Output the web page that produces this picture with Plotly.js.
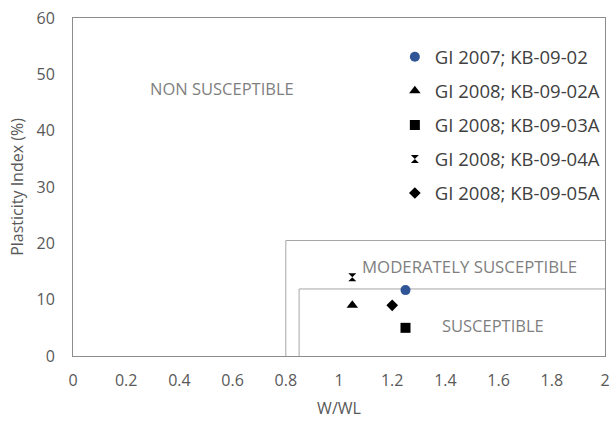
<!DOCTYPE html>
<html><head><meta charset="utf-8">
<script src="https://cdn.plot.ly/plotly-3.0.1.min.js"></script>
<style>html,body{margin:0;padding:0;background:#fff;}#chart{width:613px;height:422px;}</style>
</head><body><div id="chart"></div>
<script>
// Series data (W/WL, Plasticity Index %)
const seriesNames = ["GI 2007; KB-09-02","GI 2008; KB-09-02A","GI 2008; KB-09-03A","GI 2008; KB-09-04A","GI 2008; KB-09-05A"];
const seriesX = [[1.25],[1.05],[1.25],[1.05],[1.2]];
const seriesY = [[11.7],[9],[5],[14],[9]];
const seriesSymbols = ["circle","triangle-up","square","hourglass","diamond"];
const seriesColors = ["#2f5597","#000000","#000000","#000000","#000000"];
const seriesSizes = [10,10,10,8,9];
// Region boundaries
const moderateBoundX = [0.8, 0.8, 2];
const moderateBoundY = [0, 20.5, 20.5];
const susceptibleBoundX = [0.85, 0.85, 2];
const susceptibleBoundY = [0, 11.9, 11.9];
const xTicks = [0,0.2,0.4,0.6,0.8,1,1.2,1.4,1.6,1.8,2];
const xTickLabels = ["0","0.2","0.4","0.6","0.8","1","1.2","1.4","1.6","1.8","2"];
const yTicks = [0,10,20,30,40,50,60];

const traces = [
  {x: moderateBoundX, y: moderateBoundY, mode:'lines', line:{color:'#a6a6a6', width:1}, showlegend:false, hoverinfo:'skip'},
  {x: susceptibleBoundX, y: susceptibleBoundY, mode:'lines', line:{color:'#a6a6a6', width:1}, showlegend:false, hoverinfo:'skip'}
];
seriesNames.forEach((n,i)=>{
  traces.push({x: seriesX[i], y: seriesY[i], name: n, mode:'markers', legendgroup:'g'+i,
    marker:{symbol: seriesSymbols[i], color: seriesColors[i], size: seriesSizes[i], line:{width:0}}});
});

const layout = {
  width:613, height:422,
  margin:{l:73, r:8, t:18, b:66},
  paper_bgcolor:'#fff', plot_bgcolor:'#fff',
  font:{family:'"Open Sans", "Liberation Sans", sans-serif', color:'#595959', size:16},
  xaxis:{range:[0,2], tickvals:xTicks, ticktext:xTickLabels, showgrid:false, zeroline:false,
    showline:true, linecolor:'#8c8c8c', linewidth:1, mirror:true, ticks:'', ticklen:0,
    ticklabelstandoff:10, automargin:false,
    tickfont:{size:16, color:'#595959'},
    title:{text:'W/WL', font:{size:16, color:'#595959'}, standoff:12}},
  yaxis:{range:[0,60], tickvals:yTicks, showgrid:false, zeroline:false,
    showline:true, linecolor:'#8c8c8c', linewidth:1, mirror:true, ticks:'',
    ticklabelstandoff:14, automargin:false,
    tickfont:{size:16, color:'#595959'},
    title:{text:'Plasticity Index (%)', font:{size:16, color:'#595959'}, standoff:8}},
  legend:{x:0.605, y:0.94, xanchor:'left', yanchor:'top', bgcolor:'rgba(0,0,0,0)',
    font:{size:18.5, color:'#404040'}, tracegroupgap:7, itemwidth:30},
  annotations:[
    {xref:'x', yref:'y', x:0.56, y:47.5, text:'NON SUSCEPTIBLE', showarrow:false, font:{size:16.5, color:'#7f7f7f'}},
    {xref:'x', yref:'y', x:1.49, y:15.8, text:'MODERATELY SUSCEPTIBLE', showarrow:false, font:{size:16.8, color:'#7f7f7f'}},
    {xref:'x', yref:'y', x:1.58, y:5.4, text:'SUSCEPTIBLE', showarrow:false, font:{size:16.5, color:'#7f7f7f'}}
  ],
  showlegend:true
};
Plotly.newPlot('chart', traces, layout, {displayModeBar:false, staticPlot:true});
</script></body></html>
